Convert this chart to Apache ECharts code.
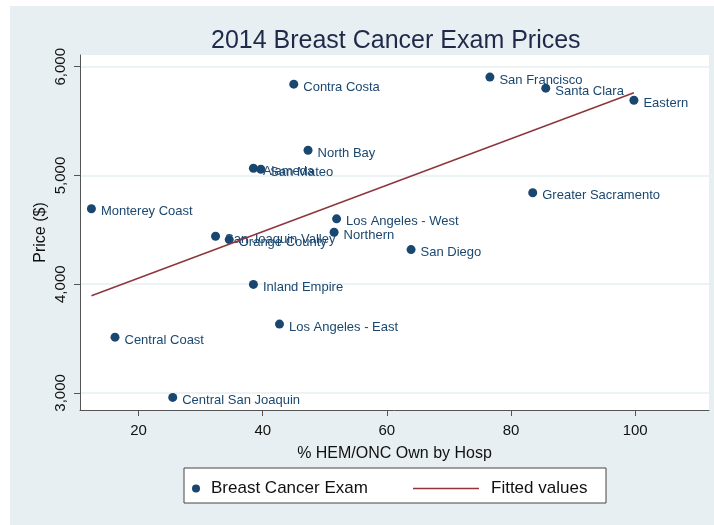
<!DOCTYPE html>
<html>
<head>
<meta charset="utf-8">
<script src="https://cdn.jsdelivr.net/npm/echarts@6/dist/echarts.min.js"></script>
<style>
html,body{margin:0;padding:0;background:#fff;}
#chart{width:714px;height:525px;}
</style>
</head>
<body>
<div id="chart"></div>
<script>
var regions = ["Contra Costa","San Francisco","Santa Clara","Eastern","North Bay","Alameda","San Mateo","Monterey Coast","Greater Sacramento","Los Angeles - West","Northern","San Diego","San Joaquin Valley","Orange County","Inland Empire","Los Angeles - East","Central Coast","Central San Joaquin"];
var pctHosp = [45.0, 76.6, 85.6, 99.8, 47.3, 38.5, 39.7, 12.4, 83.5, 51.9, 51.5, 63.9, 32.4, 34.6, 38.5, 42.7, 16.2, 25.5];
var price = [5840, 5905, 5803, 5692, 5232, 5066, 5057, 4694, 4841, 4601, 4478, 4318, 4441, 4410, 3998, 3633, 3513, 2959];
var fitX = [12.4, 99.8];
var fitY = [3894, 5761];
var xTicks = [20, 40, 60, 80, 100];
var yTicks = [3000, 4000, 5000, 6000];

var pts = pctHosp.map(function(x, i){ return [x, price[i], regions[i]]; });
var fit = fitX.map(function(x, i){ return [x, fitY[i]]; });

var chart = echarts.init(document.getElementById('chart'));
var navy = '#1a476f', maroon = '#90353b';
chart.setOption({
  backgroundColor: '#ffffff',
  animation: false,
  graphic: [
    {type:'rect', z:-10, shape:{x:10, y:6, width:704, height:519}, style:{fill:'#e8eff2'}},
    {type:'rect', z:-5, shape:{x:184, y:468, width:422, height:35}, style:{fill:'#ffffff', stroke:'#444', lineWidth:1}}
  ],
  title: {
    text: '2014 Breast Cancer Exam Prices',
    left: 206, top: 24,
    textStyle: {fontFamily:'Liberation Sans', fontSize: 25, fontWeight:'normal', color:'#1f2a48'}
  },
  grid: {left: 80, right: 5, top: 55, bottom: 115, show: true, backgroundColor:'#ffffff', borderWidth: 0},
  legend: [
    {data:['Breast Cancer Exam'], left: 187, top: 475, icon:'circle', itemWidth:8, itemHeight:8,
     textStyle:{fontFamily:'Liberation Sans', fontSize:17, color:'#111', padding:[0,0,0,6]}},
    {data:['Fitted values'], left: 408, top: 475, icon:'rect', itemWidth:66, itemHeight:1.5,
     textStyle:{fontFamily:'Liberation Sans', fontSize:17, color:'#111', padding:[0,0,0,7]}}
  ],
  xAxis: {
    type:'value', min: 10.56, max: 111.9,
    name: '% HEM/ONC Own by Hosp', nameLocation:'middle', nameGap: 36, nameMoveOverlap: false,
    nameTextStyle:{fontFamily:'Liberation Sans', fontSize:16, color:'#111'},
    axisLine:{show:true, lineStyle:{color:'#555', width:1}},
    axisTick:{show:true, length:6, lineStyle:{color:'#555'}, customValues: xTicks},
    axisLabel:{customValues: xTicks, margin: 13, fontFamily:'Liberation Sans', fontSize:15, color:'#111'},
    splitLine:{show:false}
  },
  yAxis: {
    type:'value', min: 2843, max: 6108,
    name: 'Price ($)', nameLocation:'middle', nameGap: 31, nameMoveOverlap: false,
    nameTextStyle:{fontFamily:'Liberation Sans', fontSize:16, color:'#111'},
    axisLine:{show:true, lineStyle:{color:'#555', width:1}},
    axisTick:{show:true, length:6, lineStyle:{color:'#555'}, customValues: yTicks},
    axisLabel:{customValues: yTicks, rotate:90, margin: 12, fontFamily:'Liberation Sans', fontSize:15, color:'#111',
      formatter:function(v){ return v.toLocaleString('en-US'); }},
    splitLine:{show:true, lineStyle:{color:'#e6eff1', width:1.5}}
  },
  series: [
    {name:'Breast Cancer Exam', type:'scatter', data: pts, symbolSize: 9,
     itemStyle:{color: navy, opacity: 1},
     label:{show:true, position:'right', distance:5, offset:[0,3], formatter:function(p){return p.data[2];},
       fontFamily:'Liberation Sans', fontSize:13, color: navy}},
    {name:'Fitted values', type:'line', data: fit, symbol:'none',
     lineStyle:{color: maroon, width:1.5}, itemStyle:{color: maroon}}
  ]
});
</script>
</body>
</html>
